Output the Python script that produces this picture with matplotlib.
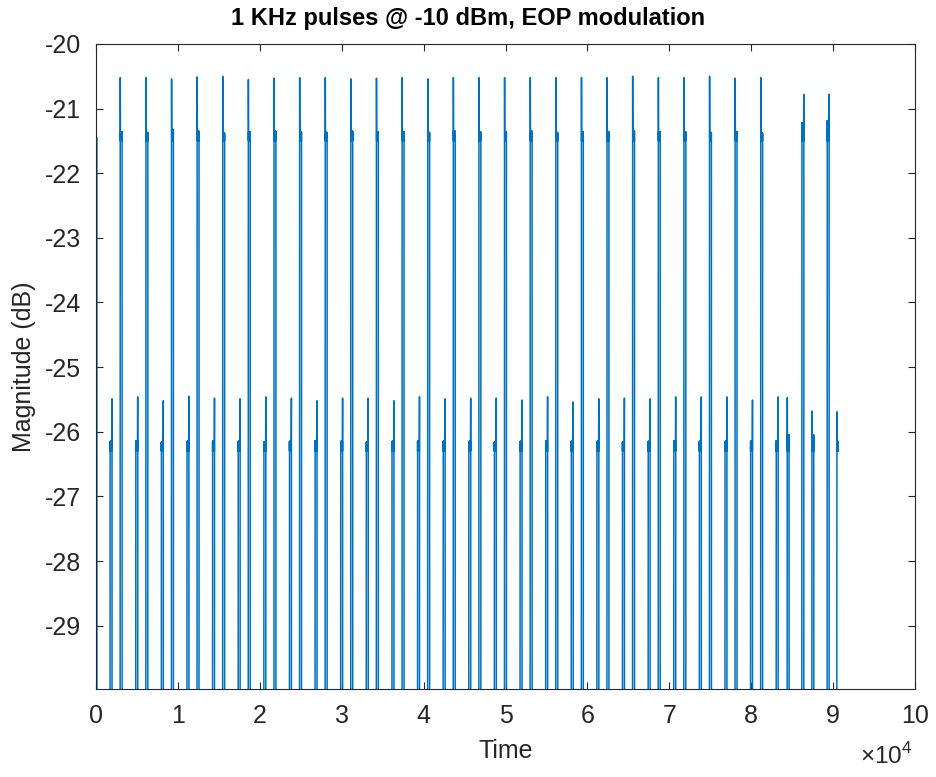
import numpy as np
import matplotlib.pyplot as plt

plt.rcParams['font.family'] = ['Liberation Sans', 'DejaVu Sans']
plt.rcParams['mathtext.fontset'] = 'custom'
plt.rcParams['mathtext.rm'] = 'Liberation Sans'

# capture length and the level between pulses (below the plotted range)
n_samples = 90620
floor_db = -40.0

# tail of the pulse that was already running when the capture started
head_len = 110
head_level = -21.45

# strong pulses: onset sample, leading spike (dB), plateau (dB)
tall_pos = [2943, 6081, 9206, 12332, 15458, 18584, 21722, 24847, 27973, 31099,
            34225, 37363, 40488, 43614, 46740, 49866, 53004, 56129, 59255, 62381,
            65507, 68645, 71770, 74896, 78022, 81148, 86178, 89267]
tall_peak = [-20.52, -20.52, -20.54, -20.51, -20.50, -20.55, -20.53, -20.52, -20.52, -20.54,
             -20.53, -20.52, -20.54, -20.52, -20.52, -20.52, -20.52, -20.52, -20.52, -20.52,
             -20.50, -20.52, -20.52, -20.50, -20.53, -20.52, -20.78, -20.78]
tall_level = [-21.36, -21.37, -21.33, -21.35, -21.38, -21.36, -21.35, -21.36, -21.37, -21.35,
              -21.36, -21.36, -21.37, -21.35, -21.36, -21.36, -21.35, -21.37, -21.36, -21.36,
              -21.35, -21.36, -21.36, -21.37, -21.36, -21.38, -21.22, -21.19]
tall_dip = -21.50

# weak pulses in between
small_pos = [1710, 4848, 7973, 11099, 14225, 17351, 20489, 23614, 26740, 29866,
             32992, 36130, 39255, 42381, 45507, 48633, 51771, 54896, 58022, 61148,
             64274, 67412, 70537, 73663, 76789, 79915, 83044, 84384, 87400, 90450]
small_peak = [-25.49, -25.46, -25.52, -25.45, -25.48, -25.49, -25.46, -25.48, -25.52, -25.48,
              -25.48, -25.52, -25.46, -25.49, -25.48, -25.48, -25.51, -25.46, -25.54, -25.49,
              -25.48, -25.49, -25.46, -25.46, -25.46, -25.51, -25.46, -25.47, -25.68, -25.69]
small_level = [-26.15, -26.14, -26.16, -26.15, -26.14, -26.15, -26.16, -26.15, -26.14, -26.15,
               -26.16, -26.15, -26.14, -26.15, -26.15, -26.16, -26.15, -26.14, -26.15, -26.15,
               -26.16, -26.15, -26.14, -26.15, -26.15, -26.14, -26.14, -26.05, -26.05, -26.16]
small_dip = -26.30

# from here on the pulse shape is mirrored (plateau / spike order swaps)
mirror_from = 84000

spike_len = 24
plateau_len = 220


def put_pulse(y, start, peak, level, dip, spike_first):
    flat = np.empty(plateau_len)
    flat[0::2] = level
    flat[1::2] = dip
    if spike_first:
        parts = [np.full(spike_len, peak), flat]
    else:
        parts = [flat, np.full(spike_len, peak)]
    seg = np.concatenate(parts)
    seg = seg[:max(0, len(y) - start)]
    y[start:start + len(seg)] = seg


mag = np.full(n_samples, floor_db)
mag[:head_len] = head_level
for p, pk, lv in zip(tall_pos, tall_peak, tall_level):
    put_pulse(mag, p, pk, lv, tall_dip, p < mirror_from)
for p, pk, lv in zip(small_pos, small_peak, small_level):
    put_pulse(mag, p, pk, lv, small_dip, p > mirror_from)

t = np.arange(n_samples)

fig = plt.figure(figsize=(9.36, 7.77), dpi=100)
ax = fig.add_axes([0.1026, 0.1133, 0.8750, 0.8301])
ax.plot(t, mag, color='#0072BD', lw=1.1)

ax.set_xlim(0, 100000)
ax.set_ylim(-29.98, -20)
ax.set_xticks(np.arange(0, 100001, 10000))
ax.set_xticklabels([str(i) for i in range(11)])
ax.set_yticks(np.arange(-29, -19, 1))
ax.set_yticklabels([str(v) for v in range(-29, -19)])

dark = '#262626'
ax.tick_params(direction='in', top=True, right=True, length=5, width=0.8,
               labelsize=18, colors=dark)
ax.tick_params(axis='x', pad=11)
ax.tick_params(axis='y', pad=11)
for s in ax.spines.values():
    s.set_color(dark)
    s.set_linewidth(0.8)

fig.text(0.5, 1 - 18 / 777, '1 KHz pulses @ -10 dBm, EOP modulation',
         ha='center', va='center', fontsize=17, fontweight='bold', color='black')
ax.set_xlabel('Time', fontsize=18, color=dark, labelpad=8)
ax.set_ylabel('Magnitude (dB)', fontsize=18, color=dark, labelpad=6)
ax.text(0.997, -0.084, r'$\times10^{4}$', transform=ax.transAxes,
        ha='right', va='top', fontsize=17.5, color=dark)

fig.savefig('out.png', dpi=100)
